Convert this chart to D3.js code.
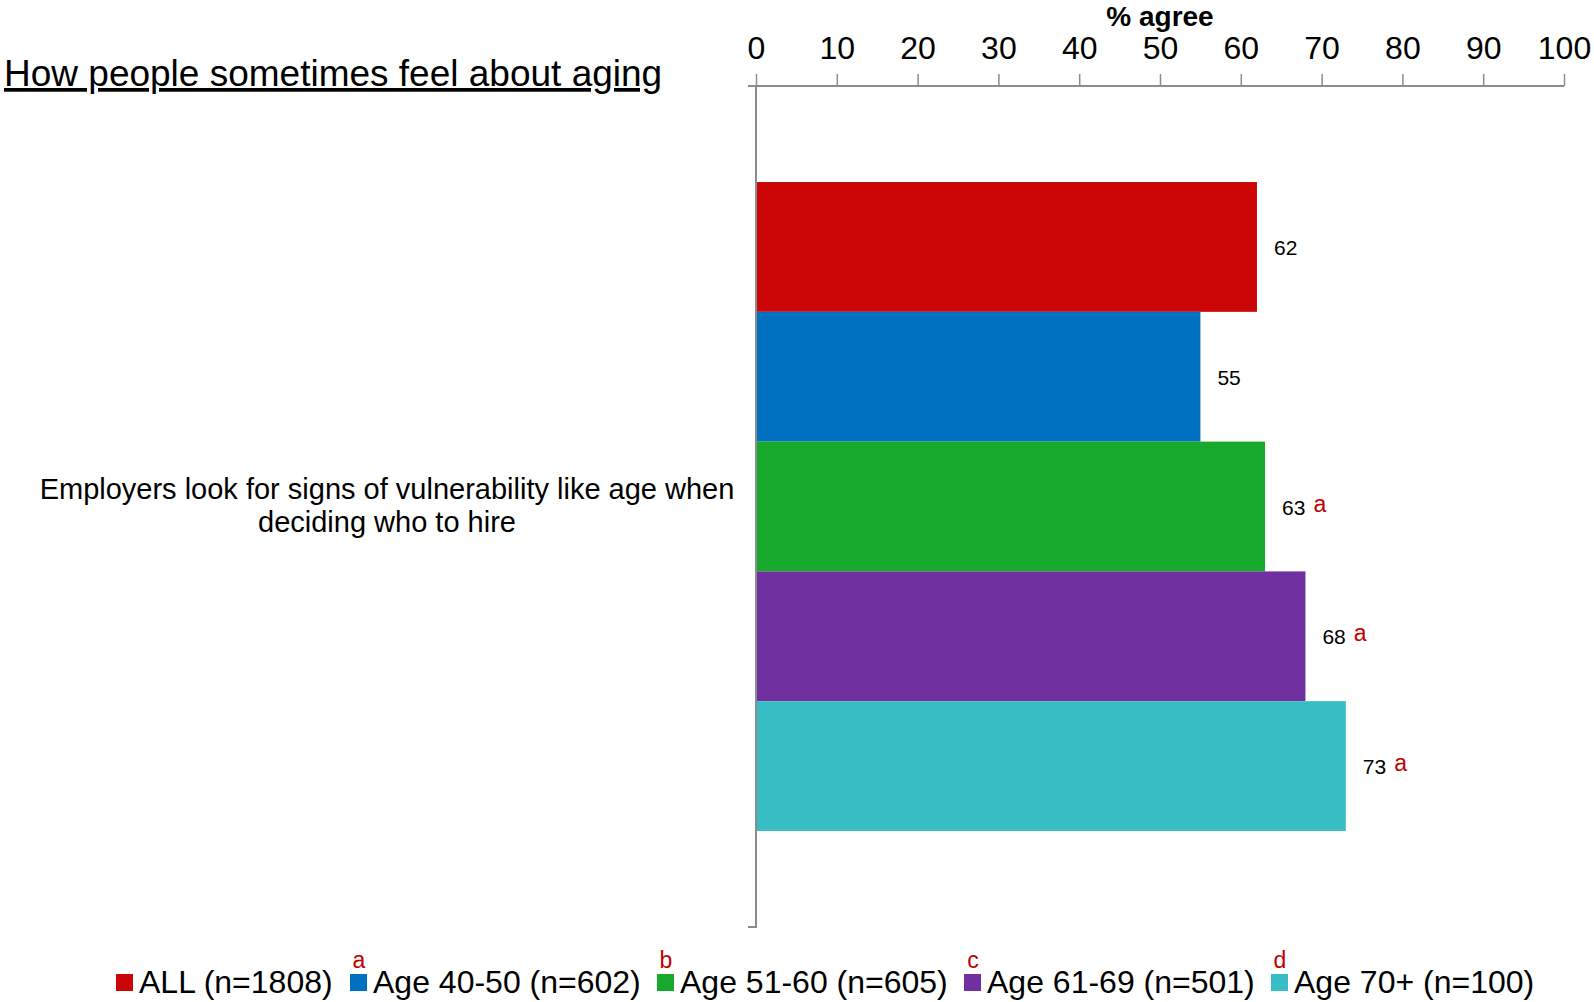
<!DOCTYPE html>
<html><head><meta charset="utf-8">
<script src="https://cdn.jsdelivr.net/npm/d3@7"></script>
<style>
body{margin:0;background:#fff;}
svg{display:block;}
</style></head>
<body>
<script>
const categories = ["Employers look for signs of vulnerability like age when|deciding who to hire"];
const seriesNames = ["ALL (n=1808)", "Age 40-50 (n=602)", "Age 51-60 (n=605)", "Age 61-69 (n=501)", "Age 70+ (n=100)"];
const seriesLetters = ["", "a", "b", "c", "d"];
const seriesColors = ["#CC0606", "#0070C0", "#16A92B", "#7030A0", "#39BDC5"];
const values = [62, 55, 63, 68, 73];
const sigMarks = ["", "", "a", "a", "a"];
const xTicks = [0, 10, 20, 30, 40, 50, 60, 70, 80, 90, 100];
const titleText = "How people sometimes feel about aging";
const axisTitle = "% agree";

const W = 1594, H = 1002;
const narrow = "'Liberation Sans Narrow', 'Arial Narrow', 'Liberation Sans', Arial, sans-serif";
const regular = "'Liberation Sans', Arial, sans-serif";
const svg = d3.select("body").append("svg").attr("width", W).attr("height", H);

const x = d3.scaleLinear().domain([0, 100]).range([756, 1564]);
const y0 = d3.scaleBand().domain(categories).range([86, 927]).paddingInner(0).paddingOuter(0.148);
const y1 = d3.scaleBand().domain(seriesNames).range([0, y0.bandwidth()]).padding(0);

// Title
svg.append("text").attr("x", 4).attr("y", 86)
  .attr("font-family", narrow).attr("font-size", 37).attr("fill", "#000")
  .attr("text-decoration", "underline").text(titleText);

// Axis title
svg.append("text").attr("x", (x(0) + x(100)) / 2).attr("y", 26)
  .attr("text-anchor", "middle").attr("font-family", narrow).attr("font-weight", "bold")
  .attr("font-size", 28).attr("fill", "#000").text(axisTitle);

// Top axis
const axisG = svg.append("g").attr("transform", "translate(0,86)")
  .call(d3.axisTop(x).tickValues(xTicks).tickSize(12).tickPadding(15).tickFormat(d3.format("d")));
axisG.select(".domain").attr("d", `M${x(0) - 8},0H${x(100)}`).attr("stroke", "#8c8c8c").attr("stroke-width", 2);
axisG.selectAll(".tick line").attr("stroke", "#8c8c8c").attr("stroke-width", 1.5);
axisG.selectAll(".tick text").attr("font-family", narrow).attr("font-size", 32).attr("fill", "#000");

// Bars
const g = svg.append("g");
categories.forEach(cat => {
  const lines = cat.split("|");
  const cy = y0(cat) + y0.bandwidth() / 2;
  const t = svg.append("text").attr("text-anchor", "middle").attr("font-family", regular)
    .attr("font-size", 29).attr("fill", "#000");
  lines.forEach((l, i) => {
    t.append("tspan").attr("x", 387).attr("y", cy - 8 + i * 33).text(l);
  });

  seriesNames.forEach((s, i) => {
    const by = y0(cat) + y1(s);
    g.append("rect").attr("x", x(0)).attr("y", by)
      .attr("width", x(values[i]) - x(0)).attr("height", y1.bandwidth())
      .attr("fill", seriesColors[i]);
    const lx = x(values[i]) + 17;
    const ly = by + y1.bandwidth() / 2 + 8;
    const vt = g.append("text").attr("x", lx).attr("y", ly)
      .attr("font-family", regular).attr("font-size", 21).attr("fill", "#000").text(values[i]);
    if (sigMarks[i]) {
      const w = vt.node().getComputedTextLength();
      g.append("text").attr("x", lx + w + 8).attr("y", ly - 3)
        .attr("font-family", regular).attr("font-size", 23).attr("fill", "#C00000").text(sigMarks[i]);
    }
  });
});

// Vertical axis line
svg.append("path").attr("d", `M${x(0)},86V927H${x(0) - 8}`)
  .attr("fill", "none").attr("stroke", "#8c8c8c").attr("stroke-width", 2);

// Legend
const legendSquaresX = [116, 350, 657, 964, 1271];
const leg = svg.append("g");
seriesNames.forEach((s, i) => {
  const lx = legendSquaresX[i];
  leg.append("rect").attr("x", lx).attr("y", 974).attr("width", 17).attr("height", 17).attr("fill", seriesColors[i]);
  leg.append("text").attr("x", lx + 23).attr("y", 993)
    .attr("font-family", narrow).attr("font-size", 32).attr("fill", "#000").text(s);
  if (seriesLetters[i]) {
    leg.append("text").attr("x", lx + 9).attr("y", 968).attr("text-anchor", "middle")
      .attr("font-family", narrow).attr("font-size", 23).attr("fill", "#C00000").text(seriesLetters[i]);
  }
});
</script>
</body></html>
